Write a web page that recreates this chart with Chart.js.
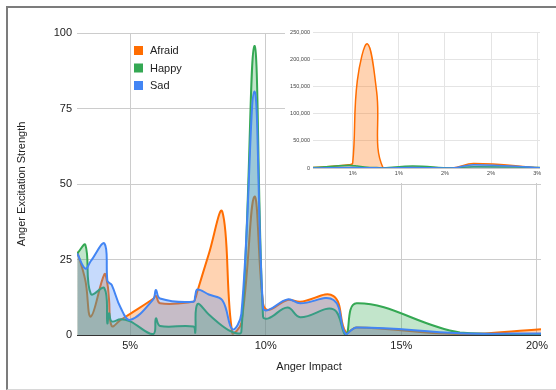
<!DOCTYPE html>
<html>
<head>
<meta charset="utf-8">
<title>Anger Excitation Strength vs Anger Impact</title>
<script src="https://cdn.jsdelivr.net/npm/chart.js@4.4.1/dist/chart.umd.min.js"></script>
<style>
  html, body { margin: 0; padding: 0; background: #fff; }
  #wrap { position: relative; width: 556px; height: 390px; overflow: hidden; }
  #frame {
    position: absolute; left: 6px; top: 6px; width: 570px; height: 384px;
    box-sizing: border-box;
    border-left: 2px solid #7c7c7c; border-top: 2px solid #7c7c7c; border-bottom: 1px solid #d8d8d8;
  }
  #main { position: absolute; left: 0; top: 0; }
  #inset { position: absolute; left: 285px; top: 9px; background: #fff; }
</style>
</head>
<body>
<div id="wrap">
  <div id="frame"></div>
  <canvas id="main" width="556" height="390"></canvas>
  <canvas id="inset" width="271" height="174"></canvas>
</div>
<script>
// ---- main chart: anger impact (%) vs excitation strength ----
const impact = [3.05, 3.35, 3.55, 4.05, 4.16, 4.22, 4.32, 4.65, 5.0, 5.85, 5.95, 6.1, 7.33, 7.4, 7.48, 7.9, 8.4, 8.77, 9.1, 9.58, 9.9, 10.1, 10.8, 11.27, 12.5, 12.95, 13.35, 17.16, 20.15];
const afraid = [27.6, 18, 6.1, 20.1, 17, 12, 3, 5, 7, 12, 13, 10.5, 11, 12, 14.5, 26.8, 40.8, 0.5, 4, 45.8, 10.5, 8.3, 11.6, 11, 12.9, 1, 2.5, 0.3, 1.9];
const happy  = [27, 29.8, 13.6, 15.5, 3.9, 7.2, 4.5, 5.2, 4.5, 0.3, 5.5, 3, 2.8, 0.8, 10.2, 6.8, 3, 1, 1, 95.7, 6.1, 5.5, 9.1, 5.9, 8.5, 0, 10.5, 0.8, 0.2];
const sad    = [27, 22, 24.5, 30.3, 18, 17.3, 16.6, 9, 5, 11.8, 14.9, 12.1, 11, 13, 15.1, 13.4, 11.5, 1.9, 7, 80.6, 8.8, 8.3, 11.8, 10.5, 11.6, 0.3, 2.5, 0.6, 0.5];
const impactTicks   = [5, 10, 15, 20];
const strengthTicks = [0, 25, 50, 75, 100];

// ---- inset chart: same emotions on a wider count scale ----
const insetImpact = [0.07, 0.46, 0.5, 0.55, 0.66, 0.76, 0.83, 1.15, 1.58, 1.81, 2.53];
const insetAfraid = [800, 6000, 9000, 160000, 228000, 140000, 0, 2000, 0, 8500, 300];
const insetHappy  = [800, 5000, 4500, 3500, 1500, 800, 0, 3500, 0, 2500, 800];
const insetSad    = [0, 1000, 1000, 800, 500, 300, 0, 1000, 0, 6000, 500];
const insetImpactTicks = [0.5, 1, 1.5, 2, 2.5];
const insetCountTicks  = [0, 50000, 100000, 150000, 200000, 250000];

const palette = {
  Afraid: ['#ff6d01', 'rgba(255,109,1,0.3)'],
  Happy:  ['#34a853', 'rgba(52,168,83,0.3)'],
  Sad:    ['#4285f4', 'rgba(66,133,244,0.3)']
};

Chart.defaults.font.family = '"Liberation Sans", Arial, sans-serif';
Chart.defaults.color = '#222';

function points(xs, ys) {
  return xs.map((x, i) => ({ x: x, y: ys[i] }));
}

function areaSet(name, xs, ys, order, width) {
  return {
    label: name,
    data: points(xs, ys),
    borderColor: palette[name][0],
    backgroundColor: palette[name][1],
    borderWidth: width,
    borderJoinStyle: 'round',
    pointRadius: 0,
    fill: 'origin',
    tension: 0.4,
    order: order
  };
}

function fixedTicks(values) {
  return scale => { scale.ticks = values.map(v => ({ value: v })); };
}

// small key drawn inside the plot, top-left
const seriesKey = {
  id: 'seriesKey',
  afterDatasetsDraw(chart) {
    const ctx = chart.ctx;
    ctx.save();
    ctx.font = '11px "Liberation Sans", Arial, sans-serif';
    ctx.textBaseline = 'middle';
    chart.data.datasets.forEach((ds, i) => {
      const top = 46 + i * 17.5;
      ctx.fillStyle = ds.borderColor;
      ctx.fillRect(134, top, 9, 9);
      ctx.fillStyle = '#222';
      ctx.fillText(ds.label, 150, top + 5);
    });
    ctx.restore();
  }
};

new Chart(document.getElementById('main'), {
  type: 'line',
  data: {
    datasets: [
      areaSet('Afraid', impact, afraid, 3, 2),
      areaSet('Happy', impact, happy, 2, 2),
      areaSet('Sad', impact, sad, 1, 2)
    ]
  },
  options: {
    responsive: false,
    animation: false,
    devicePixelRatio: 1,
    layout: { padding: { left: 15, right: 15, top: 33, bottom: 16 } },
    plugins: { legend: { display: false }, tooltip: { enabled: false } },
    scales: {
      x: {
        type: 'linear',
        min: 3.04,
        max: 20.15,
        afterBuildTicks: fixedTicks(impactTicks),
        afterFit: s => { s.height = 39; },
        ticks: { callback: v => v + '%', font: { size: 11 }, padding: 4, maxRotation: 0, autoSkip: false },
        grid: { color: '#cccccc', drawTicks: false },
        border: { display: false },
        title: { display: true, text: 'Anger Impact', font: { size: 11 }, padding: 0 }
      },
      y: {
        min: 0,
        max: 100,
        afterBuildTicks: fixedTicks(strengthTicks),
        afterFit: s => { s.width = 62; },
        ticks: { font: { size: 11 }, padding: 5 },
        grid: { color: c => (c.tick && c.tick.value === 0 ? '#333333' : '#cccccc'), drawTicks: false },
        border: { display: false },
        title: { display: true, text: 'Anger Excitation Strength', font: { size: 11 }, padding: 0 }
      }
    }
  },
  plugins: [seriesKey]
});

new Chart(document.getElementById('inset'), {
  type: 'line',
  data: {
    datasets: [
      areaSet('Afraid', insetImpact, insetAfraid, 3, 1.5),
      areaSet('Happy', insetImpact, insetHappy, 2, 1.5),
      areaSet('Sad', insetImpact, insetSad, 1, 1.5)
    ]
  },
  options: {
    responsive: false,
    animation: false,
    devicePixelRatio: 1,
    layout: { padding: { left: 0, right: 16, top: 23, bottom: 0 } },
    plugins: { legend: { display: false }, tooltip: { enabled: false } },
    scales: {
      x: {
        type: 'linear',
        min: 0.07,
        max: 2.53,
        afterBuildTicks: fixedTicks(insetImpactTicks),
        afterFit: s => { s.height = 15; },
        ticks: { callback: v => Math.round(v) + '%', font: { size: 5.5 }, color: '#444', padding: 2, maxRotation: 0, autoSkip: false },
        grid: { color: '#e4e4e4', drawTicks: false },
        border: { display: false }
      },
      y: {
        min: 0,
        max: 250000,
        afterBuildTicks: fixedTicks(insetCountTicks),
        afterFit: s => { s.width = 28; },
        ticks: { callback: v => v.toLocaleString('en-US'), font: { size: 5.5 }, color: '#444', padding: 3 },
        grid: { color: c => (c.tick && c.tick.value === 0 ? '#c8c8c8' : '#e4e4e4'), drawTicks: false },
        border: { display: false }
      }
    }
  }
});
</script>
</body>
</html>
